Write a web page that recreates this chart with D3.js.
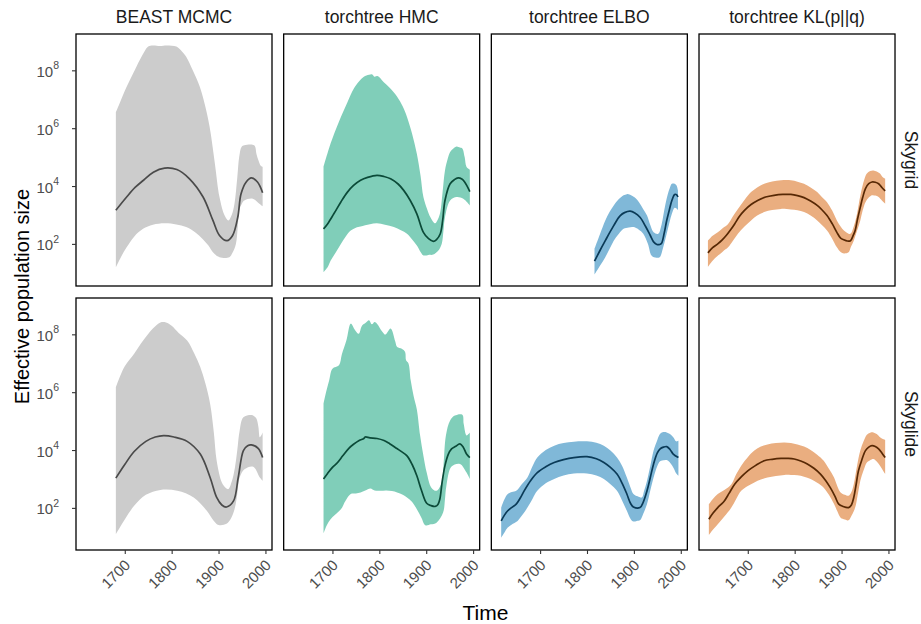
<!DOCTYPE html>
<html>
<head>
<meta charset="utf-8">
<script src="https://cdn.jsdelivr.net/npm/d3@7"></script>
<style>
  html, body { margin: 0; padding: 0; background: #fff; }
  svg text { font-family: "Liberation Sans", Arial, Helvetica, sans-serif; }
</style>
</head>
<body>
<svg id="chart" width="921" height="624"></svg>
<script>
// ---------------- DATA (year, log10 effective population size) ----------------
const methods = ["BEAST MCMC", "torchtree HMC", "torchtree ELBO", "torchtree KL(p||q)"];
const models = ["Skygrid", "Skyglide"];
const xTickValues = [1700, 1800, 1900, 2000];
const yTickExponents = [2, 4, 6, 8];

// BEAST MCMC - Skygrid
const beastSkygridMedian = [[1681,3.16],[1704,3.62],[1722,3.95],[1740,4.2],[1761,4.48],[1785,4.62],[1811,4.57],[1838,4.25],[1867,3.62],[1888,2.81],[1902,2.29],[1918,2.11],[1930,2.29],[1941,2.92],[1948,3.73],[1959,4.14],[1970,4.28],[1983,4.14],[1994,3.77]];
const beastSkygridUpper = [[1681,6.55],[1690,6.9],[1704,7.43],[1718,7.9],[1732,8.36],[1742,8.65],[1750,8.82],[1760,8.86],[1775,8.84],[1790,8.86],[1810,8.82],[1822,8.65],[1831,8.47],[1845,8.0],[1860,7.43],[1871,6.8],[1881,6.04],[1892,4.8],[1902,3.62],[1913,2.98],[1921,2.81],[1928,3.0],[1934,3.39],[1940,4.3],[1944,5.0],[1949,5.35],[1955,5.41],[1976,5.41],[1981,5.1],[1985,4.89],[1990,4.7],[1994,4.66]];
const beastSkygridLower = [[1681,1.19],[1692,1.55],[1704,1.88],[1720,2.25],[1739,2.52],[1760,2.66],[1785,2.71],[1810,2.67],[1831,2.58],[1850,2.4],[1866,2.17],[1878,1.95],[1888,1.71],[1902,1.54],[1923,1.54],[1930,1.7],[1937,2.0],[1941,2.6],[1944,3.16],[1950,3.4],[1955,3.5],[1973,3.56],[1987,3.39],[1994,3.3]];

// BEAST MCMC - Skyglide
const beastSkyglideMedian = [[1681,3.03],[1700,3.5],[1720,3.95],[1745,4.3],[1765,4.45],[1783,4.5],[1805,4.45],[1833,4.3],[1861,3.86],[1882,3.05],[1896,2.36],[1907,2.1],[1917,2.03],[1932,2.24],[1942,3.05],[1953,3.98],[1962,4.15],[1970,4.18],[1985,4.05],[1994,3.74]];
const beastSkyglideUpper = [[1681,6.17],[1690,6.55],[1700,6.9],[1720,7.33],[1740,7.8],[1760,8.2],[1776,8.41],[1788,8.41],[1800,8.3],[1815,8.05],[1833,7.79],[1848,7.35],[1861,6.87],[1872,6.3],[1882,5.6],[1890,4.6],[1896,3.63],[1907,2.88],[1915,2.7],[1921,2.65],[1928,2.9],[1935,3.4],[1940,4.0],[1945,4.67],[1953,5.13],[1970,5.21],[1976,5.17],[1981,5.08],[1985,4.8],[1988,4.44],[1991,4.5],[1994,4.61]];
const beastSkyglideLower = [[1681,1.09],[1700,1.6],[1720,2.07],[1745,2.45],[1776,2.62],[1812,2.59],[1847,2.36],[1875,1.9],[1890,1.55],[1900,1.41],[1917,1.45],[1927,1.65],[1935,2.01],[1940,2.5],[1945,3.05],[1956,3.34],[1974,3.42],[1988,3.05],[1994,2.94]];

// torchtree HMC - Skygrid
const hmcSkygridMedian = [[1681,2.52],[1690,2.7],[1703,3.04],[1718,3.45],[1732,3.79],[1745,4.02],[1760,4.2],[1775,4.3],[1795,4.37],[1810,4.33],[1824,4.25],[1840,4.07],[1852,3.85],[1866,3.5],[1880,3.04],[1894,2.4],[1905,2.18],[1915,2.09],[1922,2.15],[1930,2.35],[1935,2.8],[1940,3.5],[1951,4.08],[1960,4.22],[1968,4.28],[1976,4.24],[1982,4.14],[1993,3.81]];
const hmcSkygridUpper = [[1681,4.66],[1696,5.47],[1707,5.95],[1718,6.39],[1732,6.9],[1746,7.38],[1757,7.62],[1767,7.78],[1778,7.85],[1785,7.86],[1790,7.78],[1796,7.8],[1809,7.6],[1822,7.4],[1838,7.09],[1850,6.75],[1859,6.39],[1870,5.8],[1880,5.12],[1888,4.35],[1894,3.62],[1902,3.2],[1909,2.92],[1919,2.71],[1925,2.85],[1930,3.1],[1935,3.8],[1940,4.54],[1946,4.95],[1951,5.18],[1958,5.3],[1965,5.37],[1972,5.33],[1977,5.3],[1982,5.0],[1986,4.66],[1993,4.57]];
const hmcSkygridLower = [[1681,1.02],[1690,1.2],[1696,1.42],[1707,1.7],[1718,2.0],[1728,2.25],[1739,2.46],[1750,2.56],[1760,2.6],[1780,2.68],[1795,2.71],[1812,2.66],[1831,2.58],[1846,2.47],[1859,2.35],[1870,2.15],[1880,1.94],[1888,1.72],[1894,1.6],[1905,1.62],[1915,1.63],[1925,1.75],[1933,2.0],[1937,2.5],[1940,2.92],[1951,3.5],[1965,3.62],[1979,3.56],[1993,3.33]];

// torchtree HMC - Skyglide
const hmcSkyglideMedian = [[1681,3.0],[1690,3.2],[1700,3.4],[1711,3.57],[1722,3.8],[1735,4.06],[1745,4.2],[1757,4.33],[1767,4.4],[1770,4.45],[1780,4.42],[1795,4.4],[1810,4.33],[1822,4.22],[1834,4.09],[1845,3.97],[1859,3.8],[1870,3.5],[1880,3.11],[1890,2.6],[1901,2.16],[1910,2.08],[1919,2.05],[1925,2.12],[1929,2.3],[1934,2.9],[1940,3.46],[1947,3.85],[1954,4.04],[1962,4.12],[1972,4.21],[1979,4.1],[1986,3.86],[1993,3.74]];
const hmcSkyglideUpper = [[1681,5.6],[1685,5.9],[1693,6.4],[1700,6.81],[1714,6.93],[1720,7.3],[1730,7.8],[1739,8.37],[1748,8.15],[1756,8.02],[1763,8.3],[1771,8.4],[1778,8.49],[1784,8.35],[1790,8.43],[1795,8.37],[1806,8.1],[1813,7.99],[1824,8.2],[1834,7.75],[1838,7.56],[1848,7.5],[1855,7.39],[1857,7.1],[1862,7.0],[1867,6.4],[1873,5.88],[1880,5.4],[1887,4.5],[1894,3.8],[1901,3.22],[1911,2.7],[1922,2.59],[1933,2.88],[1937,3.5],[1942,4.5],[1951,5.02],[1961,5.19],[1977,5.22],[1980,4.9],[1986,4.5],[1990,4.55],[1993,4.61]];
const hmcSkyglideLower = [[1681,1.12],[1688,1.4],[1696,1.61],[1705,1.75],[1718,1.95],[1728,2.25],[1739,2.48],[1750,2.5],[1760,2.53],[1770,2.6],[1781,2.67],[1790,2.6],[1802,2.59],[1815,2.6],[1827,2.58],[1838,2.53],[1850,2.45],[1859,2.36],[1870,2.2],[1880,1.95],[1890,1.65],[1898,1.4],[1910,1.43],[1922,1.49],[1936,1.84],[1940,2.3],[1943,2.76],[1954,3.43],[1972,3.52],[1986,3.22],[1993,3.0]];

// torchtree ELBO - Skygrid
const elboSkygridMedian = [[1816,1.4],[1828,1.78],[1839,2.11],[1848,2.38],[1857,2.63],[1865,2.85],[1871,2.98],[1880,3.08],[1892,3.13],[1902,3.07],[1913,2.92],[1925,2.6],[1935,2.29],[1942,2.07],[1949,1.98],[1955,1.98],[1959,2.02],[1965,2.4],[1970,2.81],[1976,3.2],[1981,3.5],[1987,3.71],[1991,3.7],[1994,3.62]];
const elboSkygridUpper = [[1816,1.83],[1828,2.35],[1839,2.81],[1848,3.1],[1857,3.33],[1868,3.55],[1878,3.68],[1885,3.72],[1892,3.7],[1902,3.6],[1913,3.39],[1920,3.2],[1928,2.98],[1935,2.65],[1942,2.4],[1952,2.35],[1958,2.6],[1966,3.27],[1972,3.7],[1977,3.95],[1981,4.08],[1987,4.08],[1991,4.02],[1994,3.85]];
const elboSkygridLower = [[1816,0.94],[1828,1.25],[1839,1.54],[1848,1.82],[1857,2.11],[1868,2.35],[1878,2.52],[1889,2.57],[1899,2.58],[1910,2.5],[1920,2.35],[1930,2.0],[1938,1.59],[1948,1.52],[1955,1.54],[1962,1.85],[1970,2.35],[1976,2.75],[1981,3.04],[1987,3.25],[1991,3.22],[1994,3.16]];

// torchtree ELBO - Skyglide
const elboSkyglideMedian = [[1617,1.55],[1624,1.75],[1631,1.9],[1640,2.02],[1649,2.13],[1658,2.35],[1666,2.59],[1680,2.95],[1694,3.22],[1712,3.42],[1730,3.57],[1750,3.67],[1772,3.74],[1800,3.77],[1820,3.7],[1836,3.57],[1850,3.4],[1864,3.17],[1875,2.85],[1885,2.48],[1893,2.15],[1899,2.03],[1913,2.01],[1920,2.2],[1928,2.59],[1935,3.05],[1942,3.52],[1950,3.9],[1956,4.04],[1963,4.1],[1970,4.12],[1977,4.02],[1984,3.86],[1995,3.74]];
const elboSkyglideUpper = [[1617,2.01],[1624,2.3],[1631,2.48],[1640,2.55],[1649,2.59],[1660,2.8],[1673,3.05],[1684,3.45],[1694,3.74],[1712,4.0],[1730,4.15],[1750,4.24],[1772,4.29],[1800,4.3],[1820,4.25],[1836,4.15],[1850,3.98],[1864,3.74],[1875,3.45],[1885,3.05],[1893,2.7],[1899,2.48],[1908,2.4],[1917,2.36],[1922,2.6],[1928,2.94],[1935,3.45],[1942,3.98],[1950,4.35],[1956,4.56],[1963,4.62],[1970,4.61],[1977,4.55],[1984,4.44],[1990,4.3],[1995,4.32]];
const elboSkyglideLower = [[1617,0.97],[1624,1.15],[1631,1.32],[1642,1.45],[1652,1.55],[1662,1.75],[1673,2.01],[1684,2.32],[1694,2.59],[1712,2.85],[1730,3.0],[1750,3.12],[1772,3.19],[1800,3.19],[1820,3.12],[1836,3.0],[1850,2.82],[1864,2.59],[1875,2.25],[1885,1.9],[1893,1.62],[1899,1.53],[1906,1.55],[1913,1.57],[1920,1.8],[1928,2.13],[1935,2.6],[1942,3.05],[1950,3.45],[1956,3.61],[1965,3.65],[1973,3.63],[1984,3.4],[1990,3.2],[1995,3.11]];

// torchtree KL(p||q) - Skygrid
const klSkygridMedian = [[1615,1.69],[1625,1.87],[1636,2.0],[1645,2.13],[1654,2.29],[1663,2.48],[1672,2.69],[1682,2.95],[1693,3.16],[1707,3.36],[1721,3.5],[1738,3.62],[1756,3.68],[1775,3.71],[1792,3.71],[1806,3.67],[1820,3.6],[1834,3.48],[1848,3.33],[1858,3.18],[1869,2.98],[1880,2.7],[1890,2.4],[1898,2.2],[1905,2.14],[1912,2.1],[1919,2.11],[1925,2.3],[1929,2.46],[1934,2.85],[1940,3.27],[1945,3.6],[1951,3.91],[1958,4.08],[1965,4.14],[1972,4.13],[1979,4.08],[1986,3.95],[1993,3.83]];
const klSkygridUpper = [[1615,2.11],[1625,2.28],[1636,2.4],[1647,2.55],[1658,2.69],[1668,2.95],[1679,3.21],[1693,3.52],[1707,3.79],[1720,3.95],[1735,4.08],[1752,4.16],[1771,4.2],[1792,4.2],[1806,4.15],[1820,4.08],[1834,3.95],[1848,3.79],[1858,3.62],[1869,3.44],[1880,3.15],[1890,2.81],[1898,2.6],[1905,2.46],[1912,2.38],[1919,2.35],[1926,2.6],[1933,3.04],[1938,3.5],[1944,3.96],[1949,4.25],[1954,4.43],[1961,4.52],[1968,4.54],[1975,4.5],[1982,4.43],[1988,4.3],[1993,4.25]];
const klSkygridLower = [[1615,1.21],[1625,1.42],[1636,1.59],[1647,1.74],[1658,1.88],[1668,2.1],[1679,2.35],[1693,2.6],[1707,2.81],[1720,2.98],[1735,3.1],[1752,3.17],[1771,3.21],[1792,3.19],[1806,3.16],[1820,3.1],[1834,2.98],[1848,2.81],[1858,2.65],[1869,2.46],[1880,2.18],[1890,1.88],[1898,1.72],[1905,1.67],[1915,1.71],[1920,1.9],[1926,2.11],[1933,2.45],[1940,2.81],[1945,3.15],[1951,3.44],[1958,3.6],[1965,3.68],[1972,3.67],[1979,3.62],[1986,3.5],[1993,3.39]];

// torchtree KL(p||q) - Skyglide
const klSkyglideMedian = [[1617,1.61],[1626,1.82],[1636,2.01],[1643,2.12],[1650,2.24],[1660,2.5],[1672,2.82],[1686,3.07],[1700,3.28],[1717,3.47],[1735,3.63],[1752,3.68],[1771,3.71],[1785,3.71],[1799,3.69],[1813,3.62],[1827,3.52],[1841,3.37],[1855,3.17],[1866,2.95],[1876,2.7],[1886,2.4],[1894,2.13],[1903,2.05],[1915,2.01],[1921,2.1],[1926,2.36],[1931,2.8],[1936,3.28],[1943,3.65],[1951,3.98],[1958,4.1],[1965,4.15],[1972,4.12],[1979,4.04],[1986,3.9],[1993,3.74]];
const klSkyglideUpper = [[1617,2.13],[1626,2.32],[1636,2.48],[1650,2.62],[1665,2.82],[1675,3.15],[1686,3.46],[1700,3.75],[1714,3.98],[1728,4.12],[1742,4.19],[1760,4.24],[1778,4.26],[1792,4.24],[1806,4.19],[1820,4.12],[1834,4.0],[1848,3.84],[1862,3.63],[1873,3.35],[1884,3.05],[1891,2.75],[1898,2.53],[1907,2.45],[1915,2.42],[1921,2.55],[1926,2.82],[1933,3.45],[1940,3.98],[1947,4.3],[1954,4.53],[1961,4.6],[1968,4.61],[1975,4.55],[1982,4.44],[1988,4.38],[1993,4.35]];
const klSkyglideLower = [[1617,1.06],[1626,1.25],[1636,1.43],[1650,1.7],[1665,2.01],[1675,2.3],[1686,2.59],[1700,2.76],[1714,2.88],[1728,2.98],[1742,3.05],[1760,3.1],[1778,3.14],[1792,3.14],[1806,3.13],[1820,3.08],[1834,3.0],[1848,2.87],[1862,2.7],[1873,2.45],[1884,2.13],[1891,1.88],[1898,1.66],[1907,1.6],[1915,1.57],[1922,1.75],[1929,2.01],[1935,2.5],[1940,2.94],[1947,3.3],[1954,3.57],[1961,3.65],[1968,3.69],[1975,3.6],[1982,3.46],[1988,3.3],[1993,3.17]];

// ---------------- STYLE ----------------
const fillColors = ["#CCCCCC", "#80CEB9", "#80B8D8", "#EAAE80"];
const lineColors = ["#4A4A4A", "#0B4A38", "#0A3A57", "#572804"];

// ---------------- PANELS ----------------
const panelData = [
  [ {median: beastSkygridMedian, upper: beastSkygridUpper, lower: beastSkygridLower},
    {median: hmcSkygridMedian, upper: hmcSkygridUpper, lower: hmcSkygridLower},
    {median: elboSkygridMedian, upper: elboSkygridUpper, lower: elboSkygridLower},
    {median: klSkygridMedian, upper: klSkygridUpper, lower: klSkygridLower} ],
  [ {median: beastSkyglideMedian, upper: beastSkyglideUpper, lower: beastSkyglideLower},
    {median: hmcSkyglideMedian, upper: hmcSkyglideUpper, lower: hmcSkyglideLower},
    {median: elboSkyglideMedian, upper: elboSkyglideUpper, lower: elboSkyglideLower},
    {median: klSkyglideMedian, upper: klSkyglideUpper, lower: klSkyglideLower} ]
];

// ---------------- LAYOUT ----------------
(function draw() {
const svg = d3.select("#chart");
const leftM = 76, topM = 34;
const panelW = 196, panelH = 252, gapX = 11.67, gapY = 12;

const allPts = panelData.flat().flatMap(p => [...p.median, ...p.upper, ...p.lower]);
const xExt = d3.extent(allPts, d => d[0]);
const yExt = d3.extent(allPts, d => d[1]);
const xPad = (xExt[1] - xExt[0]) * 0.05, yPad = (yExt[1] - yExt[0]) * 0.05;

const x = d3.scaleLinear().domain([xExt[0] - xPad, xExt[1] + xPad]).range([0, panelW]);
const y = d3.scaleLog().domain([Math.pow(10, yExt[0] - yPad), Math.pow(10, yExt[1] + yPad)]).range([panelH, 0]);

const lineGen = d3.line()
  .x(d => x(d[0]))
  .y(d => y(Math.pow(10, d[1])))
  .curve(d3.curveCatmullRom.alpha(0.5));

const textCol = "#4D4D4D";

panelData.forEach((row, r) => {
  row.forEach((p, c) => {
    const g = svg.append("g")
      .attr("transform", `translate(${leftM + c * (panelW + gapX)},${topM + r * (panelH + gapY)})`);

    const bandPath = lineGen(p.upper) + "L" + lineGen(p.lower.slice().reverse()).slice(1) + "Z";
    g.append("path").attr("d", bandPath).attr("fill", fillColors[c]).attr("stroke", "none");

    g.append("path").attr("d", lineGen(p.median))
      .attr("fill", "none").attr("stroke", lineColors[c]).attr("stroke-width", 1.7)
      .attr("stroke-linejoin", "round");

    g.append("rect").attr("x", 0).attr("y", 0).attr("width", panelW).attr("height", panelH)
      .attr("fill", "none").attr("stroke", "#000").attr("stroke-width", 1.3);

    if (c === 0) {
      const ya = g.append("g").call(d3.axisLeft(y).tickValues(yTickExponents.map(e => Math.pow(10, e))).tickSize(4).tickFormat(""));
      ya.select(".domain").remove();
      ya.selectAll(".tick line").attr("stroke", "#333").attr("stroke-width", 1.1);
      yTickExponents.forEach(e => {
        const t = g.append("text")
          .attr("x", -17).attr("y", y(Math.pow(10, e)) + 6.5)
          .attr("text-anchor", "end").attr("fill", textCol).attr("font-size", 15);
        t.append("tspan").text("10");
        t.append("tspan").attr("dy", -7.5).attr("font-size", 10.5).text(e);
      });
    }
    if (r === 1) {
      const xa = g.append("g").attr("transform", `translate(0,${panelH})`)
        .call(d3.axisBottom(x).tickValues(xTickValues).tickSize(4).tickFormat(""));
      xa.select(".domain").remove();
      xa.selectAll(".tick line").attr("stroke", "#333").attr("stroke-width", 1.1);
      xTickValues.forEach(v => {
        const tx = x(v) + 6.5, ty = panelH + 16;
        g.append("text")
          .attr("transform", `translate(${tx},${ty}) rotate(-45)`)
          .attr("text-anchor", "end").attr("fill", textCol).attr("font-size", 15)
          .text(v);
      });
    }
    if (r === 0) {
      svg.append("text")
        .attr("x", leftM + c * (panelW + gapX) + panelW / 2).attr("y", 23)
        .attr("text-anchor", "middle").attr("fill", "#1A1A1A").attr("font-size", 17.5)
        .text(methods[c]);
    }
  });
  const cy = topM + r * (panelH + gapY) + panelH / 2;
  svg.append("text")
    .attr("transform", `translate(905,${cy}) rotate(90)`)
    .attr("text-anchor", "middle").attr("fill", "#1A1A1A").attr("font-size", 17.5)
    .text(models[r]);
});

svg.append("text")
  .attr("transform", `translate(29,296.5) rotate(-90)`)
  .attr("text-anchor", "middle").attr("fill", "#000").attr("font-size", 20)
  .text("Effective population size");
svg.append("text")
  .attr("x", leftM + (4 * panelW + 3 * gapX) / 2).attr("y", 620)
  .attr("text-anchor", "middle").attr("fill", "#000").attr("font-size", 21)
  .text("Time");
})();
</script>
</body>
</html>
